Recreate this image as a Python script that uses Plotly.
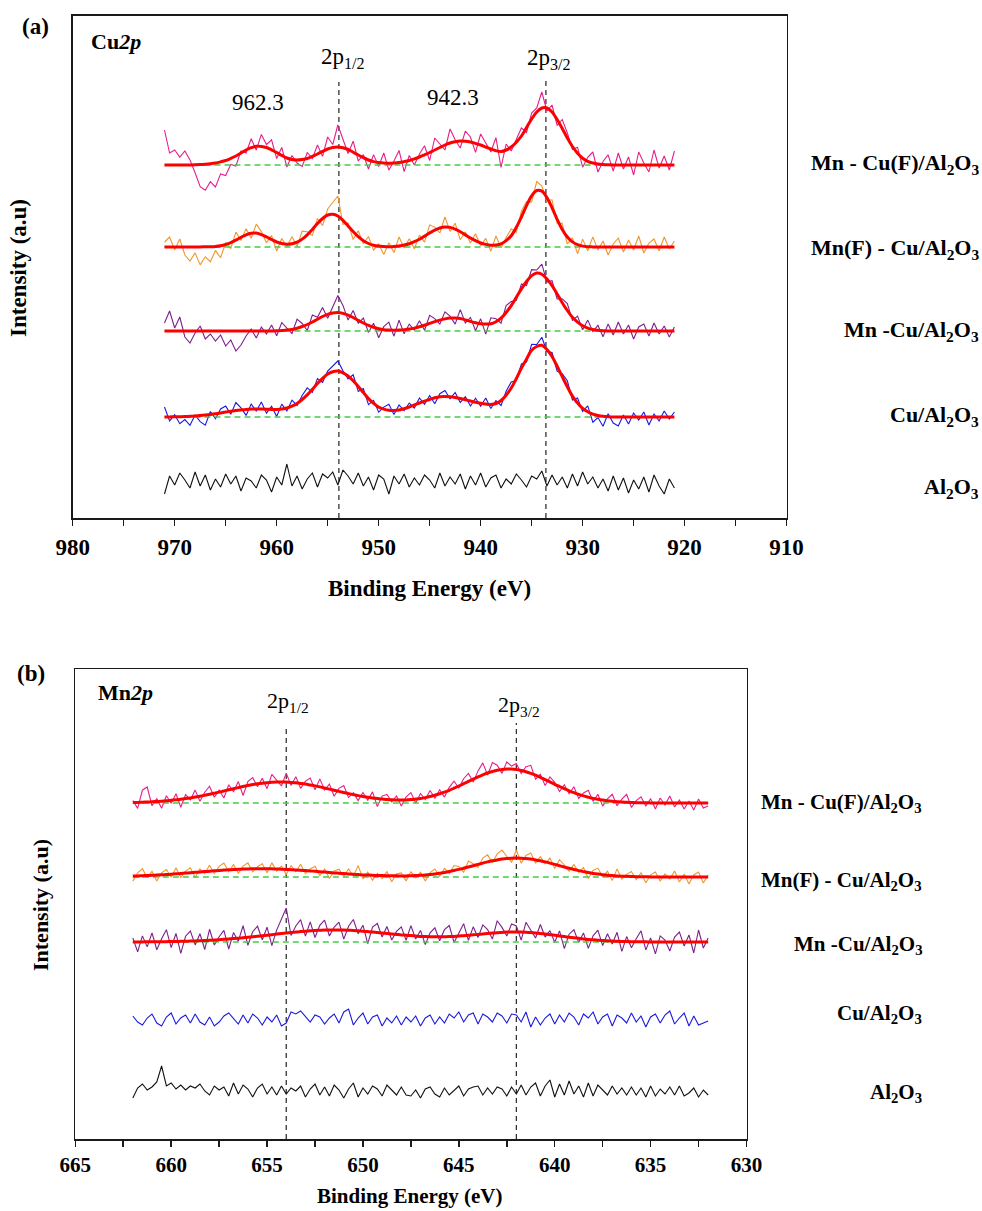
import numpy as np
import plotly.graph_objects as go

FONT = "Liberation Serif"
W, H = 982, 1211

SAMPLES = ["Mn - Cu(F)/Al<sub>2</sub>O<sub>3</sub>",
           "Mn(F) - Cu/Al<sub>2</sub>O<sub>3</sub>",
           "Mn -Cu/Al<sub>2</sub>O<sub>3</sub>",
           "Cu/Al<sub>2</sub>O<sub>3</sub>",
           "Al<sub>2</sub>O<sub>3</sub>"]
COLORS = ["#E61E8C", "#F0962D", "#7D1F8E", "#1A1AE0", "#111111"]
FIT_COLOR = "#FF0000"
BASE_COLOR = "#44CC44"

# ---------------- panel (a): Cu 2p, 971 -> 921 eV, 0.5 eV step ----------------
E_A = np.linspace(971, 921, 101).tolist()
OFFSET_A = [353, 271, 187, 101, 36]
PEAK_A = [953.9, 933.6]
PEAK_A_TOP = [436, 440]
TICKS_A = [980, 970, 960, 950, 940, 930, 920, 910]

FIT_A_MNCUF = [0, 0, 0, 0, 0, 0.1, 0.2, 0.4, 0.8, 1.3,
               2, 3.1, 4.5, 6.6, 9, 12, 15, 17.3, 18.8, 18.6,
               17.5, 15.2, 12.5, 9.6, 7, 5.5, 5, 5.5, 6.5, 8.6,
               11, 13.6, 16, 17.5, 18, 17.2, 15.5, 12.8, 10, 7.3,
               5, 3.4, 2.5, 2, 1.8, 2, 2.5, 3.4, 4.5, 6.1,
               8, 10.2, 12.5, 15, 17.5, 20, 22, 23.3, 24, 23.8,
               23, 21.6, 20, 18, 16, 14.3, 13.5, 15, 18, 22.8,
               29, 37.5, 46, 53, 57, 57, 53, 45.5, 36.5, 27,
               18.5, 11.8, 6.8, 3.7, 2, 1, 0.5, 0.2, 0, 0,
               0, 0, 0, 0, 0, 0, 0, 0, 0, 0,
               0]
FIT_A_MNFCU = [0, 0, 0, 0, 0, 0, 0.1, 0.1, 0.2, 0.3,
               0.6, 1.3, 2.5, 4.3, 6.9, 9.6, 12.2, 13.7, 13.9, 12.4,
               10.2, 7.5, 5, 3.5, 2.7, 3.2, 4.8, 7.9, 12.2, 17.6,
               23.5, 28.5, 32, 32.8, 31, 26.7, 21.1, 15.5, 10.3, 6.3,
               3.5, 1.8, 0.9, 0.5, 0.3, 0.5, 1.1, 2, 3.3, 5.3,
               7.8, 10.9, 14, 16.9, 19, 20, 19.6, 17.8, 15.2, 12.1,
               9, 6.3, 4, 2.6, 1.8, 2, 3.1, 6.4, 11.3, 19.7,
               30, 41.4, 51.1, 56.5, 55.9, 49.4, 39.2, 27.7, 17.6, 10,
               5.1, 2.3, 0.9, 0.3, 0.1, 0, 0, 0, 0, 0,
               0, 0, 0, 0, 0, 0, 0, 0, 0, 0,
               0]
FIT_A_MNCU = [0, 0, 0, 0, 0, 0, 0, 0, 0, 0,
              0, 0, 0, 0, 0, 0, 0, 0, 0, 0,
              0.05, 0.1, 0.2, 0.5, 0.9, 1.6, 2.8, 4.5, 6.5, 9,
              11.8, 14.5, 16.7, 18, 18.5, 17.6, 15.9, 13.5, 10.7, 8,
              5.6, 3.7, 2.3, 1.3, 0.9, 0.8, 0.9, 1.3, 1.9, 2.9,
              4.2, 5.8, 7.6, 9.4, 10.9, 12.1, 12.9, 12.9, 12.4, 11.1,
              9.6, 8.3, 7.2, 6.9, 7.2, 9.3, 12.8, 18.5, 25.4, 33.7,
              42.1, 49.5, 55.4, 58, 56.8, 52, 45.4, 37, 28.3, 20.5,
              13.7, 8.9, 5.2, 2.9, 1.5, 0.7, 0.3, 0.1, 0, 0,
              0, 0, 0, 0, 0, 0, 0, 0, 0, 0,
              0]
FIT_A_CU = [0, 0.1, 0.2, 0.3, 0.4, 0.7, 1, 1.4, 1.9, 2.5,
            3.2, 4, 4.9, 5.7, 6.5, 7.1, 7.6, 7.9, 8, 7.9,
            7.8, 7.6, 7.5, 7.9, 9, 10.8, 13.5, 17.5, 22.1, 27.7,
            33.4, 38.6, 43, 45.3, 46, 44.2, 41, 36.2, 30.5, 24.4,
            18.4, 13.7, 9.9, 7.9, 6.8, 6.6, 7, 8.3, 10, 12,
            14, 15.8, 17.5, 19.2, 20.3, 20.5, 20.2, 19.5, 18.5, 17.3,
            16, 14.8, 13.8, 13, 12.5, 13.5, 16.5, 21.8, 29, 38.5,
            49, 58, 66.7, 70.5, 71.7, 67.5, 60.5, 50.8, 40.3, 30.2,
            20.9, 14, 8.6, 5.2, 2.8, 1.5, 0.7, 0.3, 0, 0,
            0, 0, 0, 0, 0, 0, 0, 0, 0, 0,
            0]

RES_A_MNCUF = [35, 12, 15, 8, 14, 5, -8, -22, -26, -18,
               -24, -12, -15, -6, -10, 2, -3, 9, -4, 12,
               3, 10, -6, 8, -9, 4, -3, -7, 6, -2,
               9, -5, 12, 3, 22, 8, -4, 11, -6, 3,
               -9, 7, -4, 10, -7, 2, 12, -10, 5, -6,
               3, 9, -8, 12, 4, -5, 14, 2, -7, 10,
               5, -9, 11, 4, -3, 13, -16, 6, -4, 3,
               8, -5, 6, 4, 16, -3, 7, -6, 9, 5,
               -3, 6, -9, 4, 11, -8, 3, 10, -6, 12,
               -4, 8, -10, 13, 2, -7, 15, -3, 9, -5,
               14]
RES_A_MNFCU = [5, 10, -3, 8, -8, -14, -6, -18, -10, -15,
               -4, -12, 2, -6, 8, -3, 6, -5, 9, 3,
               -6, 4, -9, 5, -2, 7, -4, 8, 3, -6,
               5, -7, 6, 12, 20, -4, 3, -8, 6, -3,
               7, -5, 2, -8, 4, -6, 9, -3, 5, -7,
               4, -6, 8, 3, -5, 10, -4, 6, -8, 3,
               -5, 7, -3, 6, -6, 9, -4, 3, 7, -5,
               6, 4, -6, 9, 5, -3, 8, -4, 6, -7,
               4, -9, 7, -4, 10, -3, 6, -8, 3, 9,
               -5, 7, -3, 11, -6, 4, 8, -4, 10, -2,
               6]
RES_A_MNCU = [8, 20, 3, 14, -6, -12, -2, 5, -8, -3,
              -10, -4, -15, -9, -20, -14, -5, 2, -7, 4,
              -3, 6, -5, 8, 2, -4, 9, 3, -6, 7,
              2, 9, -4, 6, 17, 8, -5, 7, -3, 5,
              -7, 4, -9, 3, 8, -6, 10, -4, 5, -2,
              6, -5, 8, 3, -4, 7, 2, -6, 9, -3,
              4, -8, 5, -10, 6, 3, -5, 7, 4, -3,
              5, -4, 6, 3, 10, -3, 5, -5, 4, 7,
              -3, 6, -4, 8, -2, 5, -6, 7, -4, 9,
              -3, 6, -8, 4, 7, -5, 8, -3, 5, -6,
              4]
RES_A_CU = [10, -4, 2, -7, -3, -9, 1, -6, -10, 3,
            -5, 4, 6, -3, 8, 2, -6, 5, -2, 7,
            -4, 3, -7, 5, -3, 6, -2, 4, 7, -3,
            5, -4, 3, 6, 10, 2, -3, 6, -5, 4,
            -6, 3, -5, 2, 6, -4, 5, -2, 4, -3,
            5, -3, 4, -6, 3, 6, -2, 5, -4, 3,
            -5, 4, -3, 6, -4, 3, -5, 4, 6, -2,
            4, -3, 6, 2, 8, -2, 4, -5, 3, 6,
            -4, 5, -3, 6, -8, -2, -10, 3, -6, -9,
            2, -7, 4, -3, 5, -8, 3, -4, 6, -2,
            5]
RES_A_AL = [-12, 6, -3, 9, 2, -6, 10, -4, 7, -8,
            3, -5, 8, -2, 6, -9, 4, 1, -6, 7,
            2, -10, 5, -3, 18, -4, 6, -7, 3, 9,
            -5, 8, 4, 10, -3, 12, 6, -2, 9, -4,
            5, -8, 7, 3, -12, 6, -2, 8, -5, 4,
            -3, 7, 2, -6, 9, -4, 5, -2, 8, -7,
            6, -3, 9, -5, 4, 7, -6, 3, -2, 8,
            2, -5, 6, 3, 11, -4, 7, -3, 5, -6,
            8, -4, 10, -2, 5, -6, 3, -9, 6, -8,
            4, -11, 2, -7, 5, -10, 7, -4, -12, 3,
            -6]

# ---------------- panel (b): Mn 2p, 662 -> 632 eV, 0.25 eV step ----------------
E_B = np.linspace(662, 632, 121).tolist()
OFFSET_B = [336, 262, 197, 119, 47]
PEAK_B = [654.0, 642.0]
PEAK_B_TOP = [414, 416]
TICKS_B = [665, 660, 655, 650, 645, 640, 635, 630]

FIT_B_MNCUF = [0.5, 0.6, 0.8, 1.0, 1.2, 1.5, 1.8, 2.2,
               2.7, 3.2, 3.8, 4.4, 5.1, 5.9, 6.8, 7.8,
               8.8, 9.8, 10.9, 12.0, 13.2, 14.3, 15.4, 16.5,
               17.5, 18.4, 19.2, 19.8, 20.3, 20.7, 20.9, 21.0,
               20.9, 20.6, 20.2, 19.6, 18.9, 18.0, 17.1, 16.1,
               15, 13.9, 12.7, 11.6, 10.5, 9.4, 8.4, 7.4,
               6.5, 5.8, 5.1, 4.5, 3.9, 3.5, 3.2, 3.1,
               3.0, 3.1, 3.4, 3.9, 4.5, 5.4, 6.5, 7.8,
               9.2, 10.9, 12.7, 14.8, 17.0, 19.3, 21.6, 23.9,
               26.1, 28.1, 30.0, 31.5, 32.8, 33.6, 34.0, 33.9,
               33.4, 32.5, 31.3, 29.7, 27.8, 25.7, 23.4, 21.1,
               18.7, 16.5, 14.3, 12.2, 10.3, 8.6, 7.1, 5.8,
               4.6, 3.7, 2.9, 2.2, 1.7, 1.3, 0.9, 0.7,
               0.5, 0.35, 0.25, 0.18, 0.12, 0.08, 0.05, 0.03,
               0, 0, 0, 0, 0, 0, 0, 0,
               0]
FIT_B_MNFCU = [0.9, 1.1, 1.3, 1.5, 1.7, 1.95, 2.2, 2.5,
               2.8, 3.15, 3.5, 3.9, 4.3, 4.65, 5.0, 5.4,
               5.8, 6.2, 6.6, 6.9, 7.2, 7.45, 7.7, 7.9,
               8.1, 8.2, 8.3, 8.3, 8.3, 8.15, 8.0, 7.8,
               7.6, 7.35, 7.1, 6.75, 6.4, 6.05, 5.7, 5.3,
               4.9, 4.5, 4.1, 3.75, 3.4, 3.05, 2.7, 2.4,
               2.1, 1.9, 1.7, 1.55, 1.4, 1.3, 1.2, 1.15,
               1.1, 1.12, 1.2, 1.4, 1.7, 2.05, 2.5, 3.05,
               3.7, 4.55, 5.5, 6.5, 7.6, 8.8, 10, 11.3,
               12.6, 13.9, 15.1, 16.2, 17.1, 17.9, 18.5, 18.85,
               19, 18.85, 18.5, 17.9, 17.1, 16.2, 15.1, 13.9,
               12.6, 11.3, 10, 8.7, 7.5, 6.4, 5.4, 4.45,
               3.6, 2.9, 2.3, 1.8, 1.4, 1.1, 0.84, 0.63,
               0.46, 0.34, 0.24, 0.17, 0.12, 0.08, 0.05, 0.02,
               0, 0, 0, 0, 0, 0, 0, 0,
               0]
FIT_B_MNCU = [0.08, 0.1, 0.12, 0.15, 0.19, 0.24, 0.29, 0.36,
              0.44, 0.53, 0.64, 0.77, 0.91, 1.08, 1.27, 1.49,
              1.73, 2.0, 2.3, 2.64, 3.0, 3.4, 3.8, 4.25,
              4.7, 5.25, 5.8, 6.3, 6.8, 7.35, 7.9, 8.45,
              9.0, 9.5, 10, 10.4, 10.8, 11.15, 11.5, 11.7,
              11.9, 11.97, 12, 11.97, 11.9, 11.7, 11.5, 11.15,
              10.8, 10.4, 10, 9.5, 9.05, 8.5, 8.0, 7.55,
              7.1, 6.75, 6.4, 6.0, 5.6, 5.4, 5.25, 5.2,
              5.2, 5.3, 5.4, 5.6, 5.9, 6.3, 6.7, 7.15,
              7.6, 8.05, 8.5, 8.9, 9.3, 9.6, 9.9, 9.97,
              10, 9.9, 9.7, 9.4, 9.0, 8.5, 7.95, 7.35,
              6.75, 6.1, 5.45, 4.8, 4.2, 3.65, 3.1, 2.6,
              2.16, 1.8, 1.45, 1.17, 0.92, 0.73, 0.57, 0.44,
              0.33, 0.25, 0.18, 0.14, 0.1, 0.07, 0.05, 0.02,
              0, 0, 0, 0, 0, 0, 0, 0,
              0]

RES_B_MNCUF = [2, -6, 12, 15, -4, 3, -7, 5,
               -3, 6, -8, 4, -2, 7, -5, 3,
               8, -4, 2, -7, 5, -3, 6, -9,
               4, 7, -3, 5, -6, 8, 2, -4,
               9, -3, 6, -5, 3, 7, -4, 8,
               -2, 5, -6, 3, 7, -4, 2, -5,
               4, -3, 6, -8, 3, 5, -2, 4,
               -6, 3, 7, -4, 5, -2, 6, -3,
               4, -5, 3, 7, -2, 5, 8, -3,
               6, 12, -2, 9, 5, -4, 7, 3,
               6, -3, 5, 8, -4, 3, -6, 5,
               2, -5, 4, -3, 6, -4, 3, 7,
               -3, 5, -6, 2, 7, -4, 3, 8,
               -5, 2, 6, -3, 4, -6, 5, -2,
               7, -4, 3, -6, 2, -7, 4, -5,
               -3]
RES_B_MNFCU = [-5, 3, 7, -2, 4, -6, 2, 5,
               -3, 6, -4, 2, 5, -5, 3, -2,
               6, -3, 4, 7, -2, 5, -4, 3,
               6, -3, 2, 5, -4, 6, -2, 3,
               -5, 4, -2, 6, -3, 2, 5, -4,
               3, -6, 2, 4, -3, 5, -2, 9,
               -4, 3, -5, 2, -3, 4, -6, 2,
               3, -5, 4, -2, 3, -6, 2, 5,
               -3, 4, -2, 5, 3, -4, 6, 2,
               -3, 5, 7, -2, 6, 9, 2, -4,
               8, -5, 3, 6, -3, 4, -2, 5,
               -4, 6, 2, -3, 5, -2, 4, -6,
               3, 6, -2, 4, -5, 7, -3, 2,
               5, -3, 4, -6, 2, 5, -4, 3,
               -2, 6, -5, 3, -7, 2, 5, -6,
               2]
RES_B_MNCU = [4, -10, 6, -5, 9, -8, 3, 12,
              -6, 8, -12, 5, 10, -4, 7, -9,
              11, -5, 3, 9, -10, 6, -3, 12,
              -8, 5, 10, -4, 8, -11, 4, 14,
              25, -3, 6, 12, -5, 9, -7, 5,
              10, -6, 3, 8, -9, 4, 11, -3,
              6, -12, 5, 9, -4, 7, -6, 3,
              8, -5, 10, -3, 6, -8, 4, 9,
              -4, 7, 11, -6, 3, 12, -5, 8,
              -3, 9, 4, -6, 12, 5, -4, 8,
              6, -8, 10, 3, -5, 9, -3, 4,
              -7, 5, -12, 3, 8, -4, 6, -9,
              4, 10, -5, 7, -3, 9, -10, 5,
              -6, 3, 11, -8, 4, -12, 6, 2,
              -9, 5, 10, -4, 7, -11, 12, -6,
              4]
RES_B_CU = [4, -2, -5, 2, 6, -3, -6, 3,
            7, -4, 2, 5, -3, 6, -2, -5,
            3, -6, -2, 4, 7, 2, -4, 5,
            -3, 6, 2, -5, 3, -2, 5, -6,
            -3, 8, 6, 9, 4, -2, 5, 3,
            -4, 2, 6, -3, 8, 11, -5, 2,
            7, -4, 3, 5, -6, 2, -3, 4,
            -5, 3, -2, 4, -6, 2, 5, -4,
            3, -3, 6, 2, 8, -2, 5, 7,
            -4, 6, 3, -2, 7, 4, -3, 6,
            5, -2, 8, -7, 3, -5, 2, 6,
            -4, 5, -2, 7, 3, -5, 6, 2,
            8, -4, 3, 6, -6, 5, 2, -3,
            7, -2, 4, -7, 3, 6, -3, 5,
            9, -4, 2, 7, -6, 4, -5, -3,
            -1]
RES_B_AL = [-6, 4, 8, 2, 5, 10, 26, 6,
            9, 3, 7, 2, 6, 4, 8, 1,
            -3, 6, 2, 5, -4, 9, -2, 7,
            3, -5, 4, 8, -2, 5, -3, 6,
            -2, 4, 1, 6, -5, 3, 8, -3,
            5, -4, 7, 2, -6, 3, 9, -5,
            4, -2, 6, 3, -4, 7, 2, -3,
            5, -3, -4, 2, -6, 3, 5, -2,
            -5, 4, -3, 2, 6, -4, 3, 5,
            6, -3, 4, -2, 5, 3, -4, 5,
            -2, 7, -3, 5, 9, -4, 6, 12,
            -5, 8, -3, 11, -2, 6, -5, 9,
            -4, 7, 2, -3, 6, -2, 4, -3,
            5, -3, 4, -5, 6, -4, 3, -2,
            5, -3, 6, -4, -1, 4, -5, 2,
            -3]

FITS_A = [FIT_A_MNCUF, FIT_A_MNFCU, FIT_A_MNCU, FIT_A_CU, None]
RES_A = [RES_A_MNCUF, RES_A_MNFCU, RES_A_MNCU, RES_A_CU, RES_A_AL]
FITS_B = [FIT_B_MNCUF, FIT_B_MNFCU, FIT_B_MNCU, None, None]
RES_B = [RES_B_MNCUF, RES_B_MNFCU, RES_B_MNCU, RES_B_CU, RES_B_AL]

for arr in FITS_A + RES_A:
    if arr is not None:
        assert len(arr) == len(E_A), len(arr)
for arr in FITS_B + RES_B:
    if arr is not None:
        assert len(arr) == len(E_B), len(arr)

fig = go.Figure()


def add_panel(E, fits, res, offsets, peaks, peak_tops, xa, ya):
    for p, top in zip(peaks, peak_tops):
        fig.add_trace(go.Scatter(x=[p, p], y=[0, top], mode="lines", xaxis=xa, yaxis=ya,
                                 line=dict(color="#333333", width=1.3, dash="5px,4px"),
                                 hoverinfo="skip"))
    for i in range(5):
        fit = fits[i]
        off = offsets[i]
        if fit is None:
            ydata = [off + r for r in res[i]]
        else:
            ydata = [off + f + r for f, r in zip(fit, res[i])]
        fig.add_trace(go.Scatter(x=E, y=ydata, mode="lines", xaxis=xa, yaxis=ya,
                                 line=dict(color=COLORS[i], width=1.1)))
        if fit is not None:
            fig.add_trace(go.Scatter(x=[E[0], E[-1]], y=[off, off], mode="lines",
                                     xaxis=xa, yaxis=ya,
                                     line=dict(color=BASE_COLOR, width=1.3, dash="6px,4px")))
            fig.add_trace(go.Scatter(x=E, y=[off + f for f in fit], mode="lines",
                                     xaxis=xa, yaxis=ya, line_shape="spline",
                                     line=dict(color=FIT_COLOR, width=3)))


add_panel(E_A, FITS_A, RES_A, OFFSET_A, PEAK_A, PEAK_A_TOP, "x", "y")
add_panel(E_B, FITS_B, RES_B, OFFSET_B, PEAK_B, PEAK_B_TOP, "x2", "y2")


def px(x):
    return x / W


def py(y):
    return 1 - y / H


AX_A = dict(x0=72.7, x1=786.6, y0=16, y1=518)
AX_B = dict(x0=75.3, x1=746.5, y0=669.3, y1=1139)

xcommon = dict(showline=True, linecolor="#1a1a1a", linewidth=1.6, mirror=True,
               ticks="outside", ticklen=6, tickwidth=1.5, tickcolor="#1a1a1a",
               showgrid=False, zeroline=False, automargin=False)
ycommon = dict(showline=True, linecolor="#1a1a1a", linewidth=1.6, mirror=True,
               ticks="", showticklabels=False, showgrid=False, zeroline=False,
               automargin=False)

fig.update_layout(
    width=W, height=H, margin=dict(l=0, r=0, t=0, b=0, autoexpand=False),
    paper_bgcolor="white", plot_bgcolor="white", showlegend=False,
    xaxis=dict(domain=[px(AX_A["x0"]), px(AX_A["x1"])], range=[980, 910], anchor="y",
               tickmode="array", tickvals=TICKS_A, ticktext=[str(t) for t in TICKS_A],
               minor=dict(ticks="outside", ticklen=6, tickwidth=1.5, tickcolor="#1a1a1a",
                          tickmode="array", tickvals=[975, 965, 955, 945, 935, 925, 915]),
               tickfont=dict(family=FONT, size=23, color="black", weight="bold"),
               ticklabelstandoff=2, **xcommon),
    yaxis=dict(domain=[py(AX_A["y1"]), py(AX_A["y0"])], range=[0, AX_A["y1"] - AX_A["y0"]],
               anchor="x", **ycommon),
    xaxis2=dict(domain=[px(AX_B["x0"]), px(AX_B["x1"])], range=[665, 630], anchor="y2",
                tickmode="array", tickvals=TICKS_B, ticktext=[str(t) for t in TICKS_B],
                minor=dict(ticks="outside", ticklen=6, tickwidth=1.5, tickcolor="#1a1a1a",
                           tickmode="array",
                           tickvals=[662.5, 657.5, 652.5, 647.5, 642.5, 637.5, 632.5]),
                tickfont=dict(family=FONT, size=21, color="black", weight="bold"),
                ticklabelstandoff=0, **xcommon),
    yaxis2=dict(domain=[py(AX_B["y1"]), py(AX_B["y0"])], range=[0, AX_B["y1"] - AX_B["y0"]],
                anchor="x2", **ycommon),
)

ann = []


def add_text(x, y, text, size, xanchor="center", bold=False, angle=0):
    ann.append(dict(x=px(x), y=py(y), xref="paper", yref="paper", text=text,
                    showarrow=False, xanchor=xanchor, yanchor="middle", textangle=angle,
                    borderpad=0,
                    font=dict(family=FONT, size=size, color="black",
                              weight="bold" if bold else "normal")))


# panel (a) texts
add_text(35, 27, "(a)", 23, bold=True)
add_text(90, 42, "Cu<i>2p</i>", 22, xanchor="left", bold=True)
add_text(343, 58, "2p<sub>1/2</sub>", 23)
add_text(549, 59, "2p<sub>3/2</sub>", 23)
add_text(258, 103, "962.3", 23)
add_text(453, 98, "942.3", 23)
for lab, yy in zip(SAMPLES, [164, 249, 331, 416, 488]):
    add_text(980, yy, lab, 22, xanchor="right", bold=True)
add_text(429, 588, "Binding Energy (eV)", 23, bold=True)
add_text(18, 268, "Intensity (a.u)", 23, bold=True, angle=-90)

# panel (b) texts
add_text(31, 673, "(b)", 23, bold=True)
add_text(97, 692, "Mn<i>2p</i>", 22, xanchor="left", bold=True)
add_text(288, 702, "2p<sub>1/2</sub>", 22)
add_text(519, 706, "2p<sub>3/2</sub>", 22)
for lab, yy in zip(SAMPLES, [803, 881, 945, 1014, 1093]):
    add_text(923, yy, lab, 21, xanchor="right", bold=True)
add_text(410, 1196, "Binding Energy (eV)", 21, bold=True)
add_text(41, 905, "Intensity (a.u)", 22, bold=True, angle=-90)

fig.update_layout(annotations=ann)
fig.write_html("out.html",
               config={"displayModeBar": False, "staticPlot": True},
               post_script="document.body.style.margin='0px';"
                           "document.body.style.padding='0px';")
